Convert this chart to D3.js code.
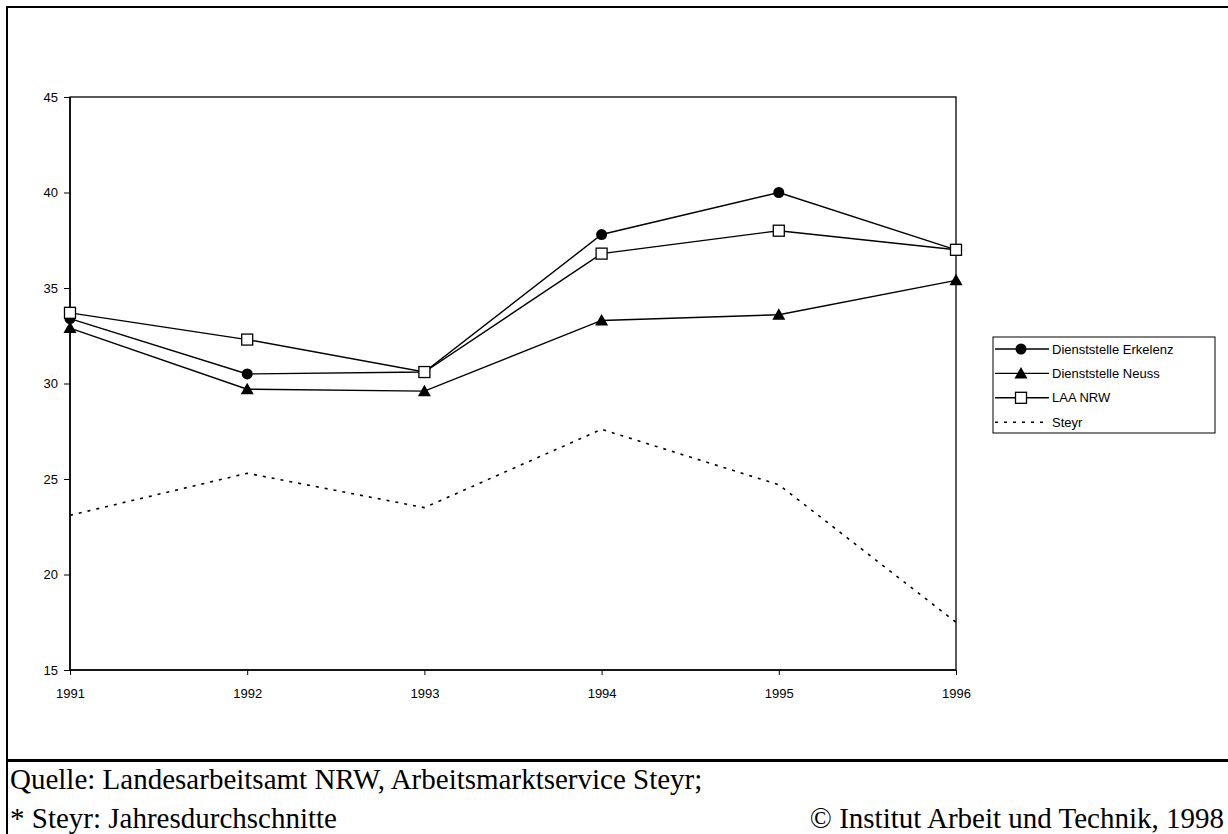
<!DOCTYPE html>
<html>
<head>
<meta charset="utf-8">
<script src="https://cdn.jsdelivr.net/npm/d3@7"></script>
<style>
  html, body { margin: 0; padding: 0; background: #fff; }
  svg { display: block; }
</style>
</head>
<body>
<script>
const years = [1991, 1992, 1993, 1994, 1995, 1996];
const erkelenz = [33.4, 30.5, 30.6, 37.8, 40.0, 37.0];
const neuss = [32.9, 29.7, 29.6, 33.3, 33.6, 35.4];
const laaNrw = [33.7, 32.3, 30.6, 36.8, 38.0, 37.0];
const steyr = [23.1, 25.3, 23.5, 27.6, 24.7, 17.5];
const seriesNames = ["Dienststelle Erkelenz", "Dienststelle Neuss", "LAA NRW", "Steyr"];
const yTicks = [15, 20, 25, 30, 35, 40, 45];
const footerLine1 = "Quelle: Landesarbeitsamt NRW, Arbeitsmarktservice Steyr;";
const footerLine2 = "* Steyr: Jahresdurchschnitte";
const footerRight = "\u00A9 Institut Arbeit und Technik, 1998";

const W = 1228, H = 834;
const svg = d3.select("body").append("svg").attr("width", W).attr("height", H);

// outer frame
svg.append("line").attr("x1", 6).attr("x2", W).attr("y1", 7).attr("y2", 7).attr("stroke", "#000").attr("stroke-width", 2);
svg.append("line").attr("x1", 7).attr("x2", 7).attr("y1", 6).attr("y2", H).attr("stroke", "#000").attr("stroke-width", 2);
svg.append("line").attr("x1", 6).attr("x2", W).attr("y1", 760.5).attr("y2", 760.5).attr("stroke", "#000").attr("stroke-width", 3);

const x = d3.scaleLinear().domain([1991, 1996]).range([70, 956]);
const y = d3.scaleLinear().domain([15, 45]).range([670, 97]);

// plot area border (top and right)
svg.append("rect").attr("x", 70).attr("y", 97).attr("width", 886).attr("height", 573)
  .attr("fill", "none").attr("stroke", "#000").attr("stroke-width", 1.3);

// axes
const yAxis = d3.axisLeft(y).tickValues(yTicks).tickSize(6).tickPadding(6).tickFormat(d3.format("d"));
const gy = svg.append("g").attr("transform", "translate(70,0)").call(yAxis);
const xAxis = d3.axisBottom(x).tickValues(years).tickSize(5).tickPadding(14).tickFormat(d3.format("d"));
const gx = svg.append("g").attr("transform", "translate(0,670)").call(xAxis);
[gx, gy].forEach(g => {
  g.select(".domain").attr("stroke", "#000").attr("stroke-width", 1.5);
  g.selectAll(".tick line").attr("stroke", "#000");
  g.selectAll(".tick text").attr("font-family", "Liberation Sans, Arial, sans-serif").attr("font-size", 13).attr("fill", "#000");
});
gy.select(".domain").attr("d", "M0,97V670");
gx.select(".domain").attr("d", "M70,0H956");

const line = d3.line().x((d, i) => x(years[i])).y(d => y(d));

// Steyr dashed
svg.append("path").datum(steyr).attr("d", line).attr("fill", "none")
  .attr("stroke", "#000").attr("stroke-width", 1.6).attr("stroke-dasharray", "3,6");

[laaNrw, neuss, erkelenz].forEach(vals => {
  svg.append("path").datum(vals).attr("d", line).attr("fill", "none")
    .attr("stroke", "#000").attr("stroke-width", 1.4);
});

function drawMarker(g, type, cx, cy) {
  if (type === "circle") {
    g.append("circle").attr("cx", cx).attr("cy", cy).attr("r", 5.5).attr("fill", "#000");
  } else if (type === "triangle") {
    g.append("path").attr("d", `M${cx},${cy - 6.5}L${cx + 6.5},${cy + 5}L${cx - 6.5},${cy + 5}Z`).attr("fill", "#000");
  } else {
    g.append("rect").attr("x", cx - 5.5).attr("y", cy - 5.5).attr("width", 11).attr("height", 11)
      .attr("fill", "#fff").attr("stroke", "#000").attr("stroke-width", 1.3);
  }
}
const mg = svg.append("g");
[{vals: erkelenz, marker: "circle"}, {vals: neuss, marker: "triangle"}, {vals: laaNrw, marker: "square"}].forEach(s => {
  s.vals.forEach((v, i) => drawMarker(mg, s.marker, x(years[i]), y(v)));
});

// legend
const lg = svg.append("g");
lg.append("rect").attr("x", 993).attr("y", 337).attr("width", 222).attr("height", 96)
  .attr("fill", "#fff").attr("stroke", "#000").attr("stroke-width", 1);
const legMarkers = ["circle", "triangle", "square", "dash"];
seriesNames.forEach((name, i) => {
  const ly = 349 + i * 24.4;
  if (legMarkers[i] === "dash") {
    lg.append("line").attr("x1", 995).attr("x2", 1049).attr("y1", ly).attr("y2", ly)
      .attr("stroke", "#000").attr("stroke-width", 1.6).attr("stroke-dasharray", "3,6");
  } else {
    lg.append("line").attr("x1", 995).attr("x2", 1049).attr("y1", ly).attr("y2", ly)
      .attr("stroke", "#000").attr("stroke-width", 1.4);
    drawMarker(lg, legMarkers[i], 1021, ly);
  }
  lg.append("text").attr("x", 1052).attr("y", ly).attr("dy", "0.35em")
    .attr("font-family", "Liberation Sans, Arial, sans-serif").attr("font-size", 13).text(name);
});

// footer
const serif = "Liberation Serif, Times New Roman, serif";
svg.append("text").attr("x", 10).attr("y", 789).attr("font-family", serif).attr("font-size", 29).text(footerLine1);
svg.append("text").attr("x", 10).attr("y", 828).attr("font-family", serif).attr("font-size", 29).text(footerLine2);
svg.append("text").attr("x", 1224).attr("y", 828).attr("text-anchor", "end").attr("font-family", serif).attr("font-size", 29).text(footerRight);
</script>
</body>
</html>
